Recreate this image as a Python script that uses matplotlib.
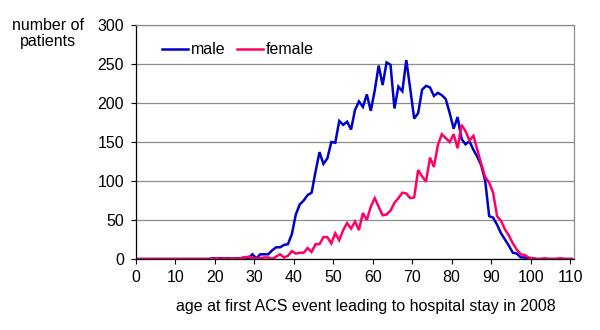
import numpy as np
import matplotlib
matplotlib.use("Agg")
import matplotlib.pyplot as plt

plt.rcParams['font.family'] = ['Liberation Sans', 'DejaVu Sans']

# age in years at first ACS event (one category per year, 0..110)
ages = np.arange(0, 111)

male = [
    0, 0, 0, 0, 0, 0, 0, 0, 0, 0,            # 0-9
    0, 0, 0, 0, 0, 0, 0, 0, 0, 1,            # 10-19
    1, 1, 1, 1, 0, 1, 1, 2, 1, 6,            # 20-29
    1, 6, 6, 6, 11, 15, 15, 18, 19, 32,      # 30-39
    57, 70, 75, 82, 85, 112, 137, 122, 129, 150,    # 40-49
    149, 177, 172, 176, 166, 191, 202, 195, 211, 190,  # 50-59
    216, 248, 223, 252, 249, 193, 221, 215, 255, 218,  # 60-69
    180, 187, 217, 222, 220, 209, 213, 210, 205, 187,  # 70-79
    167, 182, 154, 147, 151, 140, 131, 120, 100, 55,   # 80-89
    53, 44, 33, 25, 17, 8, 7, 2, 2, 0,       # 90-99
    1, 0, 0, 0, 0, 0, 0, 0, 0, 0, 0,         # 100-110
]

female = [
    0, 0, 0, 0, 0, 0, 0, 0, 0, 0,            # 0-9
    0, 0, 0, 0, 0, 0, 0, 0, 0, 0,            # 10-19
    1, 0, 1, 0, 1, 0, 1, 2, 3, 1,            # 20-29
    1, 1, 2, 2, 0, 3, 6, 2, 4, 10,           # 30-39
    7, 8, 8, 14, 9, 19, 19, 28, 28, 20,      # 40-49
    33, 24, 37, 46, 39, 48, 37, 59, 50, 67,  # 50-59
    78, 67, 56, 57, 62, 72, 78, 85, 84, 78,  # 60-69
    79, 114, 106, 99, 130, 118, 146, 160, 155, 150,   # 70-79
    160, 142, 172, 164, 152, 158, 140, 122, 105, 98,  # 80-89
    85, 55, 49, 38, 30, 20, 12, 6, 5, 2,     # 90-99
    1, 0, 0, 1, 0, 0, 0, 1, 0, 0, 0,         # 100-110
]

series_names = ["male", "female"]
series_colors = ["#0000CC", "#FF0066"]
x_ticks = np.arange(0, 111, 10)
y_ticks = np.arange(0, 301, 50)

fig = plt.figure(figsize=(6.0, 3.3), dpi=100)
ax = fig.add_axes([136 / 600, 71 / 330, 438 / 600, 234 / 330])

# each age is drawn in the middle of its category slot
for vals, name, col in zip([male, female], series_names, series_colors):
    ax.plot(ages + 0.5, vals, color=col, lw=1.8, label=name,
            solid_joinstyle='miter')

ax.set_xlim(0, 111)
ax.set_ylim(0, 300)
ax.set_xticks(x_ticks)
ax.set_yticks(y_ticks)
ax.tick_params(axis='both', direction='out', length=3.6, width=0.8,
               labelsize=11.5, colors='black')
ax.tick_params(axis='y', pad=5)
ax.tick_params(axis='x', pad=4)

ax.yaxis.grid(True, color='#8C8C8C', lw=0.9)
ax.set_axisbelow(True)
for side in ['left', 'bottom']:
    ax.spines[side].set_color('black')
    ax.spines[side].set_linewidth(0.9)
for side in ['top', 'right']:
    ax.spines[side].set_color('#8C8C8C')
    ax.spines[side].set_linewidth(0.9)

leg = ax.legend(loc='center left', bbox_to_anchor=((162 - 136) / 438, (259 - 50) / 234),
                ncol=2, frameon=False, fontsize=11.5, borderpad=0,
                borderaxespad=0, handlelength=1.6, handletextpad=0.2,
                columnspacing=0.75)

fig.text(48 / 600, 1 - 46 / 330, "number of\npatients", ha='center',
         va='baseline', fontsize=11.5, linespacing=1.05)
fig.text(366 / 600, 1 - 311 / 330,
         "age at first ACS event leading to hospital stay in 2008",
         ha='center', va='baseline', fontsize=11.5)

fig.savefig("out.png", dpi=100, facecolor='white')
